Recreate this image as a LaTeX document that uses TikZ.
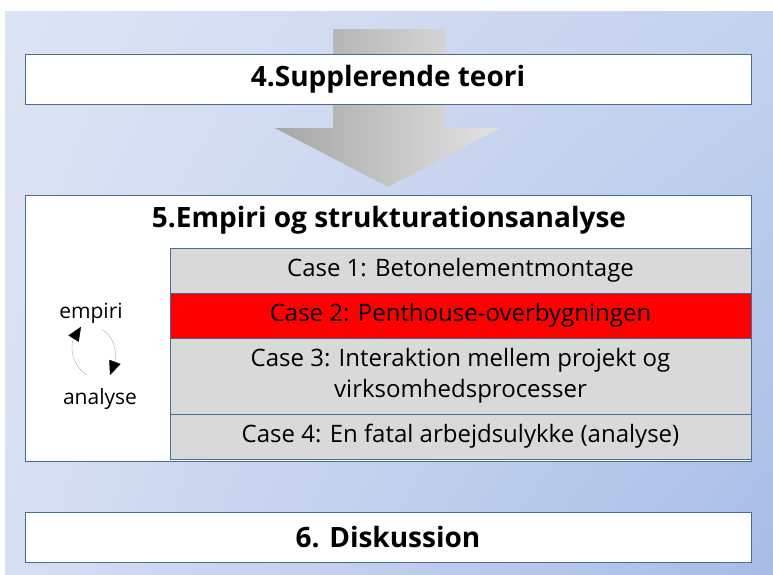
\documentclass[tikz,border=0pt]{standalone}
\usepackage{fontspec}
\setmainfont{Open Sans}
\usetikzlibrary{arrows.meta, positioning, calc, shadings}
\definecolor{bgtl}{HTML}{DDE4F3}
\definecolor{bgtr}{HTML}{C4D2EE}
\definecolor{bgbl}{HTML}{D6DFF2}
\definecolor{bgbr}{HTML}{A7BCE6}
\definecolor{boxline}{HTML}{4A6A9A}
\definecolor{casegray}{HTML}{D9D9D9}
\definecolor{casered}{HTML}{FF0000}

\begin{document}
\begin{tikzpicture}[x=1pt, y=-1pt,
    panel/.style={rectangle, draw=boxline, fill=white, thick, minimum width=726pt, minimum height=50pt, inner sep=0pt, font=\bfseries\fontsize{28}{32}\selectfont},
    casebox/.style={rectangle, draw=boxline, fill=casegray, thick, minimum width=581pt, inner sep=0pt, outer sep=0pt, align=center, font=\fontsize{24}{31}\selectfont},
    side/.style={font=\fontsize{21}{24}\selectfont},
    cycle/.style={-{Triangle[length=14pt,width=12pt,black]}, draw=gray!65, thin}
]
\useasboundingbox (0,0) rectangle (773,574);
\fill[white] (0,0) rectangle (773,574);
\shade[upper left=bgtl, upper right=bgtr, lower left=bgbl, lower right=bgbr] (5,11) rectangle (773,574);

% arrow from theory to empiri
\shade[left color=gray!70, right color=gray!22] (333,29) -- (445,29) -- (445,128) -- (500,128) -- (388,187) -- (275,128) -- (333,128) -- cycle;

\node[panel] (teori) at (388,79) {4.Supplerende teori};
\node[panel, minimum height=266pt] (empbox) at (388,328) {};
\node[font=\bfseries\fontsize{28}{32}\selectfont] (emptitle) at (389,220) {5.Empiri og strukturationsanalyse};

\node[casebox, minimum height=45pt] (case1) at (460.5,270.5) {Case 1: Betonelementmontage};
\node[casebox, fill=casered, minimum height=45pt, below=0pt of case1] (case2) {Case 2: Penthouse-overbygningen};
\node[casebox, minimum height=76pt, below=0pt of case2] (case3) {Case 3: Interaktion mellem projekt og\\virksomhedsprocesser};
\node[casebox, minimum height=45pt, below=0pt of case3] (case4) {Case 4: En fatal arbejdsulykke (analyse)};

\node[side] (empiri) at (91,313) {empiri};
\node[side] (analyse) at (100,399) {analyse};
\draw[cycle] ($(analyse.north)+(-13,-10)$) .. controls +(-18,-12) and +(-10,16) .. ($(empiri.south)+(-10,0)$);
\draw[cycle] ($(empiri.south)+(11,3)$) .. controls +(16,9) and +(6,-16) .. ($(analyse.north)+(10,-10)$);

\node[panel] (disk) at (388,537) {6. Diskussion};
\end{tikzpicture}
\end{document}
